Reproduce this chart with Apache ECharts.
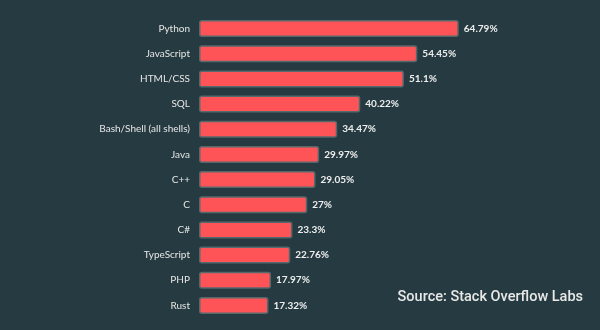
<!DOCTYPE html>
<html><head><meta charset="utf-8">
<script src="https://cdn.jsdelivr.net/npm/echarts@6/dist/echarts.min.js"></script>
<style>html,body{margin:0;padding:0;background:#263b41;}#c{width:600px;height:330px;}</style>
</head><body><div id="c"></div>
<script>
const categories = ["Python","JavaScript","HTML/CSS","SQL","Bash/Shell (all shells)","Java","C++","C","C#","TypeScript","PHP","Rust"];
const values = [64.79,54.45,51.1,40.22,34.47,29.97,29.05,27,23.3,22.76,17.97,17.32];
const sourceText = "Source: Stack Overflow Labs";

const chart = echarts.init(document.getElementById('c'));
chart.setOption({
  backgroundColor: '#263b41',
  animation: false,
  grid: {left: 199, top: 16, height: 302, width: 402},
  xAxis: {type: 'value', min: 0, max: 100, show: false},
  yAxis: {
    type: 'category', data: categories, inverse: true,
    axisLine: {show: false}, axisTick: {show: false},
    axisLabel: {color: '#e6e6e6', fontSize: 10, margin: 9, fontFamily: 'Lato'}
  },
  series: [{
    type: 'bar', data: values, barWidth: 17,
    itemStyle: {color: '#ff5457', borderColor: '#55686c', borderWidth: 1.5, borderRadius: 2},
    label: {show: true, position: 'right', distance: 5, color: '#eeeeee', fontSize: 10, fontWeight: 'bold', fontFamily: 'Lato',
      formatter: p => p.value + '%'}
  }],
  graphic: [{
    type: 'text', right: 17, top: 290,
    style: {text: sourceText, fill: '#e8e8e8', fontSize: 14.5, fontFamily: 'Roboto', fontWeight: 500}
  }]
});
</script></body></html>
